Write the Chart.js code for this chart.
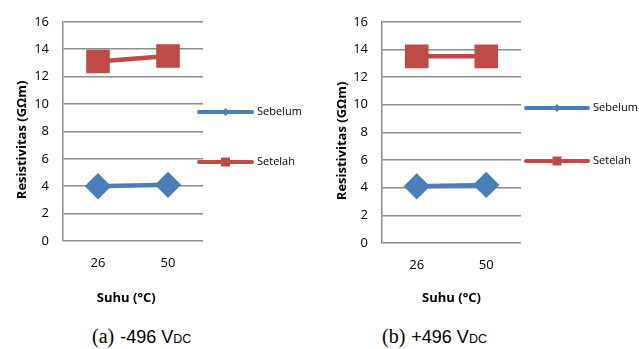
<!DOCTYPE html>
<html>
<head>
<meta charset="utf-8">
<script src="https://cdn.jsdelivr.net/npm/chart.js@4/dist/chart.umd.min.js"></script>
<style>
  body { margin: 0; background: #fff; width: 639px; height: 349px; overflow: hidden; position: relative; }
  .panel { position: absolute; top: 0; }
  .cap { position: absolute; top: 325px; line-height: 24px; color: #000; white-space: nowrap; }
  .cap .ser { font: 20px "Liberation Serif", serif; margin-right: 6px; }
  .cap .sans { font: 18px "Liberation Sans", sans-serif; }
  .cap small { font: 12.5px "Liberation Sans", sans-serif; }
</style>
</head>
<body>
<div class="panel" style="left:0"><canvas id="chartA" width="320" height="310"></canvas></div>
<div class="panel" style="left:320px"><canvas id="chartB" width="319" height="310"></canvas></div>
<div class="cap" style="left:92px"><span class="ser">(a)</span><span class="sans">-496 V</span><small>DC</small></div>
<div class="cap" style="left:382px"><span class="ser">(b)</span><span class="sans">+496 V</span><small>DC</small></div>
<script>
'use strict';

const suhu = ['26', '50'];
const sebelumA = [4.0, 4.1];
const setelahA = [13.1, 13.5];
const sebelumB = [4.1, 4.2];
const setelahB = [13.5, 13.5];
const yMin = 0, yMax = 16, yStep = 2;

const BLUE = '#4a7ebb';
const RED = '#be4b48';
const GRID = '#8c8c8c';

// line + marker legend on the right side, like Excel
const sideLegend = {
  id: 'sideLegend',
  afterDraw(chart, args, opts) {
    const ctx = chart.ctx;
    chart.data.datasets.forEach((ds, i) => {
      const y = opts.rows[i];
      const x0 = opts.x, x1 = opts.x + opts.len, xm = (x0 + x1) / 2;
      ctx.save();
      ctx.strokeStyle = ds.borderColor;
      ctx.lineWidth = 4;
      ctx.lineCap = 'round';
      ctx.beginPath();
      ctx.moveTo(x0, y);
      ctx.lineTo(x1, y);
      ctx.stroke();
      ctx.fillStyle = ds.pointBackgroundColor;
      ctx.beginPath();
      if (ds.pointStyle === 'rectRot') {
        ctx.moveTo(xm - 4, y);
        ctx.lineTo(xm, y - 4);
        ctx.lineTo(xm + 4, y);
        ctx.lineTo(xm, y + 4);
        ctx.closePath();
      } else {
        ctx.rect(xm - 4.5, y - 4.5, 9, 9);
      }
      ctx.fill();
      ctx.fillStyle = '#000';
      ctx.font = '11px "Open Sans"';
      ctx.textBaseline = 'middle';
      ctx.fillText(ds.label, x1 + 5, y);
      ctx.restore();
    });
  }
};

function makeChart(id, sebelum, setelah, lay) {
  return new Chart(document.getElementById(id), {
    type: 'line',
    data: {
      labels: suhu,
      datasets: [
        {
          label: 'Sebelum',
          data: sebelum,
          borderColor: BLUE,
          backgroundColor: BLUE,
          pointBackgroundColor: '#4a7ebb',
          pointBorderColor: '#4a7ebb',
          borderWidth: 4.5,
          pointStyle: 'rectRot',
          pointRadius: 10,
          pointHoverRadius: 10,
        },
        {
          label: 'Setelah',
          data: setelah,
          borderColor: RED,
          backgroundColor: RED,
          pointBackgroundColor: '#be4b48',
          pointBorderColor: '#be4b48',
          borderWidth: 4.5,
          pointStyle: 'rect',
          pointRadius: 13.5,
          pointHoverRadius: 13.5,
        },
      ],
    },
    options: {
      responsive: false,
      animation: false,
      layout: { padding: { top: lay.top, right: lay.right, left: 0, bottom: 0 } },
      plugins: {
        legend: { display: false },
        tooltip: { enabled: false },
        sideLegend: { x: lay.legX, len: lay.legLen, rows: lay.legRows },
      },
      scales: {
        x: {
          offset: true,
          grid: { display: false, drawTicks: false },
          border: { display: false },
          ticks: { padding: 14, color: '#000', font: { family: 'Open Sans', size: 13 } },
          title: {
            display: true,
            text: lay.xTitle,
            color: '#000',
            font: { family: 'Open Sans', size: 13, weight: 'bold' },
            padding: { top: 0, bottom: lay.xTitlePad },
          },
          afterFit: (s) => { s.height = lay.xHeight; },
        },
        y: {
          min: yMin,
          max: yMax,
          ticks: { stepSize: yStep, padding: 14, color: '#000', font: { family: 'Open Sans', size: 13 } },
          grid: { color: GRID, lineWidth: 1.5, drawTicks: false },
          border: { color: GRID, width: 1.5 },
          title: {
            display: true,
            text: 'Resistivitas (GΩm)\u00a0\u00a0\u00a0\u00a0\u00a0',
            color: '#000',
            font: { family: 'Open Sans', size: 13, weight: 'bold' },
            padding: { top: 14, bottom: 0 },
          },
          afterFit: (s) => { s.width = lay.yWidth; },
        },
      },
    },
    plugins: [sideLegend],
  });
}

makeChart('chartA', sebelumA, setelahA, {
  top: 16, right: 117, yWidth: 63, xHeight: 69, xTitlePad: 4,
  xTitle: 'Suhu (°C)\u00a0\u00a0\u00a0\u00a0',
  legX: 199, legLen: 53, legRows: [112, 162],
});

makeChart('chartB', sebelumB, setelahB, {
  top: 17, right: 118, yWidth: 62, xHeight: 67, xTitlePad: 4,
  xTitle: 'Suhu (°C)',
  legX: 206, legLen: 62, legRows: [108, 161],
});
</script>
</body>
</html>
